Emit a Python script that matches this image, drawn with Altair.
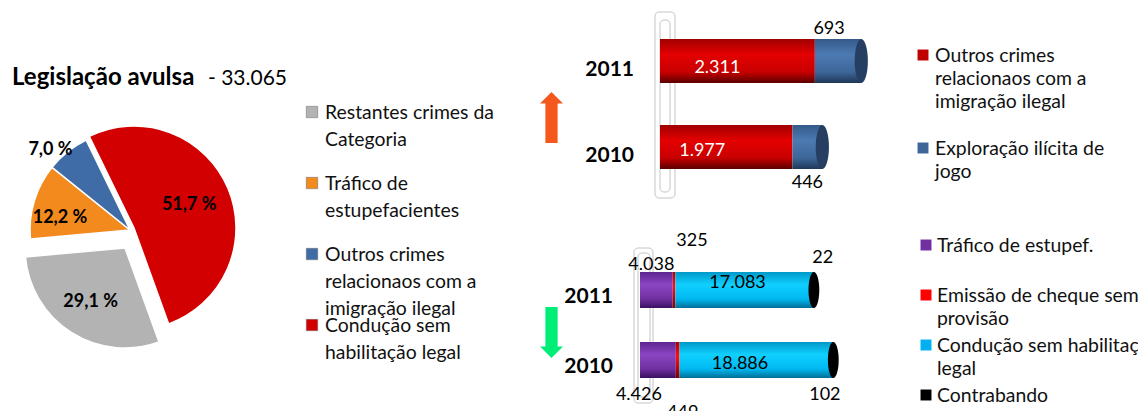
import math
import altair as alt
import pandas as pd

FONT = "Lato"

# ---------------- data ----------------
title_bold = "Legislação avulsa"
title_rest = "- 33.065"

pie_categories = ["Condução sem habilitação legal", "Restantes crimes da Categoria",
                  "Tráfico de estupefacientes", "Outros crimes relacionaos com a imigração ilegal"]
pie_percent = [51.7, 29.1, 12.2, 7.0]
pie_labels = ["51,7 %", "29,1 %", "12,2 %", "7,0 %"]
pie_colors = ["#D20000", "#B3B3B3", "#F28A1E", "#3F6CA6"]

pie_legend_order = ["Restantes crimes da Categoria", "Tráfico de estupefacientes",
                    "Outros crimes relacionaos com a imigração ilegal", "Condução sem habilitação legal"]
pie_legend_text = ["Restantes crimes da\nCategoria", "Tráfico de\nestupefacientes",
                   "Outros crimes\nrelacionaos com a\nimigração ilegal", "Condução sem\nhabilitação legal"]

years = ["2011", "2010"]

top_series = ["Outros crimes relacionaos com a imigração ilegal", "Exploração ilícita de jogo"]
top_imigracao = [2311, 1977]
top_jogo = [693, 446]
top_legend_text = ["Outros crimes\nrelacionaos com a\nimigração ilegal", "Exploração ilícita de\njogo"]
top_legend_colors = ["#C00000", "#3E6699"]

bottom_series = ["Tráfico de estupef.", "Emissão de cheque sem provisão",
                 "Condução sem habilitação legal", "Contrabando"]
bottom_trafico = [4038, 4426]
bottom_cheque = [325, 449]
bottom_conducao = [17083, 18886]
bottom_contrabando = [22, 102]
bottom_legend_text = ["Tráfico de estupef.", "Emissão de cheque sem\nprovisão",
                      "Condução sem habilitação\nlegal", "Contrabando"]
bottom_legend_colors = ["#7030A0", "#FF0000", "#00B0F0", "#000000"]


def fmt(v):
    return f"{v:,}".replace(",", ".")


ELLIPSE = "M0,-1 A0.3,1 0 1,1 0,1 A0.3,1 0 1,1 0,-1 Z"
ARROW_UP = "M-0.24,1 L-0.24,-0.55 L-0.45,-0.55 L0,-1 L0.45,-0.55 L0.24,-0.55 L0.24,1 Z"
ARROW_DOWN = "M-0.24,-1 L-0.24,0.55 L-0.45,0.55 L0,1 L0.45,0.55 L0.24,0.55 L0.24,-1 Z"


def grad(stops):
    return alt.Gradient(gradient="linear", x1=0, y1=0, x2=0, y2=1,
                        stops=[alt.GradientStop(offset=o, color=c) for o, c in stops])


one = pd.DataFrame({"k": [0]})

# ---------------- title ----------------
title_layers = [
    alt.Chart(pd.DataFrame({"t": [title_bold]})).mark_text(
        font=FONT, fontSize=24, fontWeight="bold", align="left", baseline="alphabetic", color="black"
    ).encode(text="t:N", x=alt.value(4), y=alt.value(77)),
    alt.Chart(pd.DataFrame({"t": [title_rest]})).mark_text(
        font=FONT, fontSize=21, align="left", baseline="alphabetic", color="black"
    ).encode(text="t:N", x=alt.value(200), y=alt.value(77)),
]

# ---------------- pie ----------------
pie_df = pd.DataFrame({"cat": pie_categories, "pct": pie_percent, "label": pie_labels,
                       "order": list(range(len(pie_categories)))})
rot = math.radians(-26)
theta_sc = alt.Scale(domain=[0, 100], range=[rot, rot + 2 * math.pi])
pie_color_sc = alt.Scale(domain=pie_categories, range=pie_colors)
pie_base = alt.Chart(pie_df).transform_window(
    cum="sum(pct)", sort=[alt.SortField("order")]
).transform_calculate(t0="datum.cum - datum.pct", mid="datum.cum - datum.pct / 2")

slice_layout = [  # centre x, centre y, outer radius, label radius, label dx, label dy
    (126, 220, 102, 60, 0, 0),
    (117, 240, 100, 64, 0, 0),
    (122, 222, 100, 71, -2, 9),
    (122, 222, 100, 113, -9, 8),
]
pie_layers = []
for cat, (cx, cy, r, lr, ldx, ldy) in zip(pie_categories, slice_layout):
    b = pie_base.transform_filter(alt.datum.cat == cat)
    pie_layers.append(b.mark_arc(radius=r, stroke="white", strokeWidth=1.5).encode(
        theta=alt.Theta("t0:Q", scale=theta_sc, stack=False), theta2="cum:Q",
        color=alt.Color("cat:N", scale=pie_color_sc, legend=None),
        x=alt.value(cx), y=alt.value(cy)))
    pie_layers.append(b.mark_text(font=FONT, fontSize=18, fontWeight="bold", color="black",
                                  dx=ldx, dy=ldy).encode(
        theta=alt.Theta("mid:Q", scale=theta_sc, stack=False), radius=alt.value(lr),
        text="label:N", x=alt.value(cx), y=alt.value(cy)))

pleg_df = pd.DataFrame({"cat": pie_legend_order, "text": pie_legend_text})
pleg_y = alt.Scale(type="point", domain=pie_legend_order, range=[104, 317], padding=0)
pie_layers.append(alt.Chart(pleg_df).mark_square(size=130, opacity=1, stroke="#666", strokeWidth=0.5).encode(
    x=alt.value(304), y=alt.Y("cat:N", scale=pleg_y, axis=None),
    color=alt.Color("cat:N", scale=pie_color_sc, legend=None)))
pie_layers.append(alt.Chart(pleg_df).mark_text(
    font=FONT, fontSize=19.4, align="left", baseline="alphabetic", dy=6.5, lineBreak="\n",
    lineHeight=27, color="#111").encode(
    x=alt.value(317), y=alt.Y("cat:N", scale=pleg_y, axis=None), text="text:N"))
pie_group = alt.layer(*pie_layers)


# ---------------- bars ----------------
def bar_group(series, values_list, grads, cap_color, xdom, xrng, yrng, thick,
              year_x, year_dy, label_specs):
    rows = []
    for k, (name, vals) in enumerate(zip(series, values_list)):
        for yr, v in zip(years, vals):
            rows.append({"year": yr, "cat": name, "order": k, "value": v, "label": fmt(v)})
    df = pd.DataFrame(rows)
    xs = alt.Scale(domain=xdom, range=xrng)
    ys = alt.Scale(type="point", domain=years, range=yrng, padding=0)
    X = lambda f: alt.X(f, scale=xs, axis=None)
    Y = alt.Y("year:N", scale=ys, axis=None)
    base = alt.Chart(df).transform_stack(
        stack="value", groupby=["year"], as_=["x0", "x1"],
        sort=[alt.SortField("order", order="ascending")]
    ).transform_calculate(xm="(datum.x0 + datum.x1) / 2")
    layers = []
    for k, name in enumerate(series):
        layers.append(base.transform_filter(alt.datum.cat == name).mark_bar(
            size=thick, color=grads[k]).encode(x=X("x0:Q"), x2="x1:Q", y=Y))
    layers.append(alt.Chart(df).transform_aggregate(total="sum(value)", groupby=["year"]).mark_point(
        shape=ELLIPSE, filled=True, size=thick ** 2, color=cap_color, opacity=1, strokeWidth=0
    ).encode(x=X("total:Q"), y=Y))
    ydf = pd.DataFrame({"year": years})
    layers.append(alt.Chart(ydf).mark_text(
        font=FONT, fontSize=21, fontWeight="bold", align="right", baseline="middle",
        dy=year_dy, color="black").encode(x=alt.value(year_x), y=Y, text="year:N"))
    for yr, k, dx, dy, col in label_specs:
        layers.append(base.transform_filter(
            (alt.datum.cat == series[k]) & (alt.datum.year == yr)).mark_text(
            font=FONT, fontSize=18, baseline="middle", dx=dx, dy=dy, color=col
        ).encode(x=X("xm:Q"), y=Y, text="label:N"))
    return alt.layer(*layers)


top_group = bar_group(
    top_series, [top_imigracao, top_jogo],
    [grad([(0, "#A00000"), (0.35, "#E40000"), (0.75, "#C80000"), (1, "#5A0000")]),
     grad([(0, "#345A8A"), (0.35, "#4C7AB2"), (0.75, "#3D6698"), (1, "#1E3858")])],
    "#253E62", [0, 3000], [652, 853], [53, 139], 44, 626, 9,
    [("2011", 0, -20, 7, "white"), ("2010", 0, -24, 4, "white"),
     ("2011", 1, -9, -32, "black"), ("2010", 1, 0, 36, "black")])

bottom_group = bar_group(
    bottom_series, [bottom_trafico, bottom_cheque, bottom_conducao, bottom_contrabando],
    [grad([(0, "#5E2590"), (0.35, "#8A45C2"), (0.75, "#7030A0"), (1, "#3A1060")]),
     grad([(0, "#B00000"), (0.4, "#FF1010"), (1, "#800000")]),
     grad([(0, "#0098C8"), (0.35, "#10D0FF"), (0.75, "#00B8F0"), (1, "#006E96")]),
     "#000000"],
    "#000000", [0, 24000], [632, 826.4], [282, 352], 36, 605, 7,
    [("2011", 1, 18, -49, "black"), ("2011", 0, -5, -25, "black"),
     ("2011", 2, -7, -7, "black"), ("2011", 3, 9, -32, "black"),
     ("2010", 2, -16, 4, "black"), ("2010", 0, -19, 35, "black"),
     ("2010", 1, 5, 53, "black"), ("2010", 3, -8, 35, "black")])


# ---------------- right legends ----------------
def legend_group(cats, texts, colors, yrng, sq_x, tx_x, font_size, line_h):
    df = pd.DataFrame({"cat": cats, "text": texts})
    ys = alt.Scale(type="point", domain=cats, range=yrng, padding=0)
    cs = alt.Scale(domain=cats, range=colors)
    sq = alt.Chart(df).mark_square(size=120, opacity=1).encode(
        x=alt.value(sq_x), y=alt.Y("cat:N", scale=ys, axis=None),
        color=alt.Color("cat:N", scale=cs, legend=None))
    tx = alt.Chart(df).mark_text(
        font=FONT, fontSize=font_size, align="left", baseline="alphabetic", dy=6.5,
        lineBreak="\n", lineHeight=line_h, color="#111").encode(
        x=alt.value(tx_x), y=alt.Y("cat:N", scale=ys, axis=None), text="text:N")
    return alt.layer(sq, tx)


top_legend = legend_group(top_series, top_legend_text, top_legend_colors, [47, 140], 915, 927, 19.4, 23)
bottom_legend = legend_group(bottom_series, bottom_legend_text, bottom_legend_colors, [237, 387], 918, 929, 19.4, 23)

# ---------------- decorations (walls, arrows) ----------------
deco = []
for (x0, x1, y0, y1) in [(647, 667, 4, 190), (652, 662, 12, 184), (626, 645, 240, 395), (630, 642, 245, 389)]:
    deco.append(alt.Chart(one).mark_rect(fillOpacity=0, stroke="#C4C4C4", strokeWidth=1, cornerRadius=4).encode(
        x=alt.value(x0), x2=alt.value(x1), y=alt.value(y0), y2=alt.value(y1)))
deco.append(alt.Chart(one).mark_point(shape=ARROW_UP, filled=True, size=51 ** 2, color="#F4581C", opacity=1).encode(
    x=alt.value(543.5), y=alt.value(109.5)))
deco.append(alt.Chart(one).mark_point(shape=ARROW_DOWN, filled=True, size=51 ** 2, color="#00EE78", opacity=1).encode(
    x=alt.value(543.5), y=alt.value(324.5)))

chart = alt.layer(
    *title_layers, pie_group, *deco, top_group, bottom_group, top_legend, bottom_legend
).resolve_scale(
    x="independent", y="independent", color="independent", theta="independent"
).properties(
    width=1130, height=403, padding=0, autosize=alt.AutoSizeParams(type="none"),
    background="white"
).configure_view(stroke=None)

chart.save("out.html", embed_options={"renderer": "svg", "actions": False})
